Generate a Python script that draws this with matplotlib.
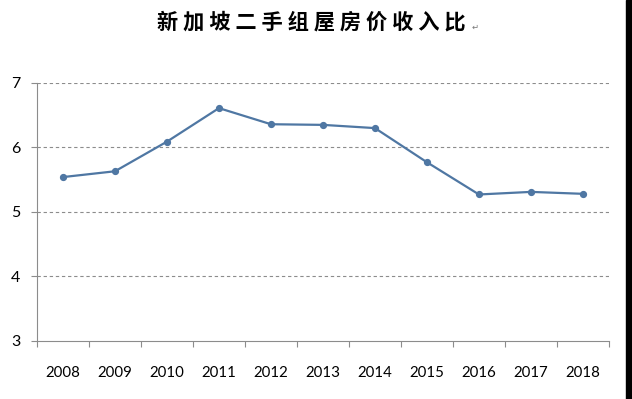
import matplotlib.pyplot as plt
from matplotlib.patches import Rectangle

# data
years = ['2008', '2009', '2010', '2011', '2012', '2013', '2014', '2015', '2016', '2017', '2018']
ratio = [5.54, 5.63, 6.09, 6.61, 6.36, 6.35, 6.30, 5.77, 5.27, 5.31, 5.28]
y_ticks = [3, 4, 5, 6, 7]
title = '新加坡二手组屋房价收入比'

fig = plt.figure(figsize=(6.32, 3.99), dpi=100)
ax = fig.add_axes([0.0585, 0.146, 0.905, 0.646])

x = list(range(len(years)))
ax.plot(x, ratio, color='#4f77a3', lw=1.6, marker='o', ms=4.2,
        markerfacecolor='#4f77a3', markeredgecolor='#4f77a3', zorder=3)

ax.set_xlim(-0.5, len(years) - 0.5)
ax.set_ylim(3, 7)

# dashed horizontal gridlines
for v in y_ticks[1:]:
    ax.axhline(v, color='#8c8c8c', lw=0.8, ls=(0, (3, 2.5)), zorder=1)

# category labels centered, ticks between categories
ax.set_xticks(x)
ax.set_xticklabels(years, fontsize=10.8, family='Lato')
ax.set_xticks([i - 0.5 for i in range(len(years) + 1)], minor=True)
ax.tick_params(axis='x', which='major', length=0, pad=18)
ax.tick_params(axis='x', which='minor', length=4, color='#8c8c8c', width=0.8)

ax.set_yticks(y_ticks)
ax.set_yticklabels([str(v) for v in y_ticks], fontsize=11.5, family='Lato')
ax.tick_params(axis='y', length=4, color='#8c8c8c', width=0.8, pad=8)

for side in ['top', 'right']:
    ax.spines[side].set_visible(False)
for side in ['left', 'bottom']:
    ax.spines[side].set_color('#8c8c8c')
    ax.spines[side].set_linewidth(0.8)

# title with wide letter spacing, plus the paragraph mark
fig.text(0.249, 0.945, ' '.join(title), fontsize=15.3, fontweight='bold',
         family=['Noto Sans CJK SC', 'DejaVu Sans'], ha='left', va='center')
fig.text(0.746, 0.932, '↵', fontsize=6, color='#777777', family='DejaVu Sans',
         ha='left', va='center')

# dark strip at the right edge of the screenshot
fig.patches.append(Rectangle((0.991, 0), 0.009, 1, transform=fig.transFigure,
                             color='black', zorder=0))

fig.savefig('out.png', dpi=100)
